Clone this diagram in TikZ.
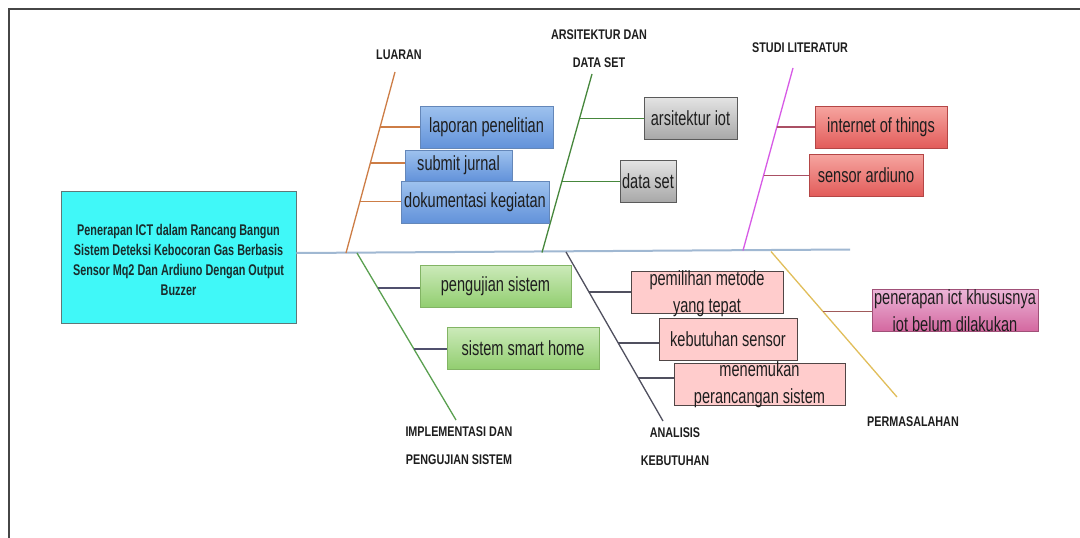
\documentclass[tikz,border=0pt]{standalone}
\usepackage{fontspec}
\setmainfont{Liberation Sans}
\newfontfamily\itemfont[FakeStretch=0.71]{Liberation Sans}
\newfontfamily\headfont[FakeStretch=0.77]{Liberation Sans}
\newfontfamily\titlefont[FakeStretch=0.70]{Liberation Sans}
\usetikzlibrary{calc}

% line colours
\definecolor{framec}{RGB}{70,70,70}
\definecolor{spinec}{RGB}{160,184,210}
\definecolor{luaranc}{RGB}{205,125,70}
\definecolor{arsc}{RGB}{70,135,60}
\definecolor{studic}{RGB}{215,90,230}
\definecolor{studibr}{RGB}{170,80,100}
\definecolor{implc}{RGB}{90,160,80}
\definecolor{implbr}{RGB}{80,80,110}
\definecolor{anac}{RGB}{80,80,95}
\definecolor{permc}{RGB}{225,190,90}
\definecolor{permbr}{RGB}{160,90,90}
\definecolor{txtc}{RGB}{30,30,30}
% box colours
\definecolor{cyanfill}{RGB}{64,248,248}
\definecolor{cyanedge}{RGB}{95,120,120}
\definecolor{bluetop}{RGB}{158,194,238}
\definecolor{bluebot}{RGB}{98,146,218}
\definecolor{blueedge}{RGB}{100,135,185}
\definecolor{graytop}{RGB}{228,228,228}
\definecolor{graybot}{RGB}{168,168,168}
\definecolor{grayedge}{RGB}{90,90,90}
\definecolor{redtop}{RGB}{246,165,160}
\definecolor{redbot}{RGB}{226,92,90}
\definecolor{rededge}{RGB}{180,70,70}
\definecolor{greentop}{RGB}{204,234,186}
\definecolor{greenbot}{RGB}{146,206,112}
\definecolor{greenedge}{RGB}{130,180,100}
\definecolor{pinkfill}{RGB}{255,204,204}
\definecolor{pinkedge}{RGB}{80,70,70}
\definecolor{magtop}{RGB}{236,182,216}
\definecolor{magbot}{RGB}{212,104,160}
\definecolor{magedge}{RGB}{160,80,120}

\begin{document}
\begin{tikzpicture}[x=1pt,y=-1pt,
  bone/.style={line width=1.3pt},
  twig/.style={line width=1.3pt},
  itembox/.style={draw, line width=0.9pt, inner sep=0pt},
  bluebox/.style={itembox, top color=bluetop, bottom color=bluebot, draw=blueedge},
  graybox/.style={itembox, top color=graytop, bottom color=graybot, draw=grayedge},
  redbox/.style={itembox, top color=redtop, bottom color=redbot, draw=rededge},
  greenbox/.style={itembox, top color=greentop, bottom color=greenbot, draw=greenedge},
  pinkbox/.style={itembox, fill=pinkfill, draw=pinkedge},
  magbox/.style={itembox, top color=magtop, bottom color=magbot, draw=magedge},
  itemtext/.style={font=\itemfont\fontsize{20.5}{27.5}\selectfont, text=txtc, align=center, inner sep=0pt},
  head/.style={font=\headfont\bfseries\fontsize{14}{28}\selectfont, text=txtc, align=center, inner sep=0pt},
]
\useasboundingbox (0,0) rectangle (1080,538);
\fill[white] (0,0) rectangle (1080,538);

% page frame (top and left edges)
\draw[framec, line width=2pt] (1080,9) -- (8.5,9) -- (8.5,538);

% head of the fish
\node[draw=cyanedge, fill=cyanfill, line width=0.9pt, minimum width=235pt, minimum height=132pt, inner sep=0pt] (main) at (178.5,257) {};
\node[font=\titlefont\bfseries\fontsize{15.5}{20}\selectfont, text={rgb,255:red,25;green,45;blue,45}, align=center, inner sep=0pt] (main-t) at (178.5,259.5)
  {Penerapan ICT dalam Rancang Bangun\\Sistem Deteksi Kebocoran Gas Berbasis\\Sensor Mq2 Dan Ardiuno Dengan Output\\Buzzer};

% spine
\coordinate (spW) at (main.east |- 0,253);
\coordinate (spE) at (850,249.5);
\draw[spinec, line width=2pt] (spW) -- (spE);

% bone end points
\coordinate (lT) at (395,72);  \coordinate (lB) at (346,253);
\coordinate (aT) at (592,74);  \coordinate (aB) at (542,252.5);
\coordinate (sT) at (793,68);  \coordinate (sB) at (743,250.5);
\coordinate (iT) at (357,253); \coordinate (iB) at (456,420);
\coordinate (nT) at (566,252); \coordinate (nB) at (663,421);
\coordinate (pT) at (771,251.5); \coordinate (pB) at (897,397);

\draw[bone, luaranc] (lT) -- (lB);
\draw[bone, arsc] (aT) -- (aB);
\draw[bone, studic] (sT) -- (sB);
\draw[bone, implc] (iT) -- (iB);
\draw[bone, anac] (nT) -- (nB);
\draw[bone, permc] (pT) -- (pB);

% bone headings
\node[head] (h-luaran) at (399,55) {LUARAN};
\node[head] (h-ars) at (599,49) {ARSITEKTUR DAN\\DATA SET};
\node[head] (h-studi) at (800,48) {STUDI LITERATUR};
\node[head] (h-impl) at (459,446) {IMPLEMENTASI DAN\\PENGUJIAN SISTEM};
\node[head] (h-ana) at (675,447) {ANALISIS\\KEBUTUHAN};
\node[head] (h-perm) at (913,422) {PERMASALAHAN};

% item boxes
\node[bluebox, minimum width=133pt, minimum height=42pt] (lap) at (486.5,127) {};
\node[bluebox, minimum width=107pt, minimum height=31pt] (sub) at (458.5,165.5) {};
\node[bluebox, minimum width=148pt, minimum height=42pt] (dok) at (475,202) {};

\node[graybox, minimum width=93pt, minimum height=42pt] (iot) at (690.5,118) {};
\node[graybox, minimum width=56pt, minimum height=42pt] (ds) at (648,181) {};

\node[redbox, minimum width=132pt, minimum height=42pt] (int) at (881,127) {};
\node[redbox, minimum width=114pt, minimum height=42pt] (sen) at (866,175) {};

\node[greenbox, minimum width=151pt, minimum height=42pt] (uji) at (495.5,286) {};
\node[greenbox, minimum width=152pt, minimum height=42pt] (smart) at (523,348) {};

\node[pinkbox, minimum width=152pt, minimum height=42pt] (pm) at (707,292) {};
\node[pinkbox, minimum width=138pt, minimum height=42pt] (ks) at (728,339) {};
\node[pinkbox, minimum width=171pt, minimum height=42pt] (mp) at (759.5,384) {};

\node[magbox, minimum width=166pt, minimum height=42pt] (ict) at (955,310) {};

% branch points on the bones
\coordinate (l1) at ($(lT)!0.304!(lB)$);
\coordinate (l2) at ($(lT)!0.503!(lB)$);
\coordinate (l3) at ($(lT)!0.715!(lB)$);
\coordinate (a1) at ($(aT)!0.249!(aB)$);
\coordinate (a2) at ($(aT)!0.603!(aB)$);
\coordinate (s1) at ($(sT)!0.324!(sB)$);
\coordinate (s2) at ($(sT)!0.588!(sB)$);
\coordinate (i1) at ($(iT)!0.210!(iB)$);
\coordinate (i2) at ($(iT)!0.575!(iB)$);
\coordinate (n1) at ($(nT)!0.237!(nB)$);
\coordinate (n2) at ($(nT)!0.538!(nB)$);
\coordinate (n3) at ($(nT)!0.746!(nB)$);
\coordinate (p1) at ($(pT)!0.414!(pB)$);

% branches
\begin{scope}[on background layer/.style={}]
\draw[twig, luaranc] (l1) -- (l1 -| lap.west);
\draw[twig, luaranc] (l2) -- (l2 -| sub.west);
\draw[twig, luaranc] (l3) -- (l3 -| dok.west);
\draw[twig, arsc] (a1) -- (a1 -| iot.west);
\draw[twig, arsc] (a2) -- (a2 -| ds.west);
\draw[twig, studibr] (s1) -- (s1 -| int.west);
\draw[twig, studibr] (s2) -- (s2 -| sen.west);
\draw[twig, implbr] (i1) -- (i1 -| uji.west);
\draw[twig, implbr] (i2) -- (i2 -| smart.west);
\draw[twig, anac] (n1) -- (n1 -| pm.west);
\draw[twig, anac] (n2) -- (n2 -| ks.west);
\draw[twig, anac] (n3) -- (n3 -| mp.west);
\draw[twig, permbr] (p1) -- (p1 -| ict.west);
\end{scope}

% item texts
\node[itemtext] (lap-t) at (lap) {laporan penelitian};
\node[itemtext] (sub-t) at (sub) {submit jurnal};
\node[itemtext] (dok-t) at (dok) {dokumentasi kegiatan};
\node[itemtext] (iot-t) at (iot) {arsitektur iot};
\node[itemtext] (ds-t) at (ds) {data set};
\node[itemtext] (int-t) at (int) {internet of things};
\node[itemtext] (sen-t) at (sen) {sensor ardiuno};
\node[itemtext] (uji-t) at (uji) {pengujian sistem};
\node[itemtext] (smart-t) at (smart) {sistem smart home};
\node[itemtext] (pm-t) at ($(pm)+(0,1.5)$) {pemilihan metode\\yang tepat};
\node[itemtext] (ks-t) at (ks) {kebutuhan sensor};
\node[itemtext] (mp-t) at ($(mp)+(0,0.5)$) {menemukan\\perancangan sistem};
\node[itemtext] (ict-t) at ($(ict)+(0,0.5)$) {penerapan ict khususnya\\iot belum dilakukan};
\end{tikzpicture}
\end{document}
